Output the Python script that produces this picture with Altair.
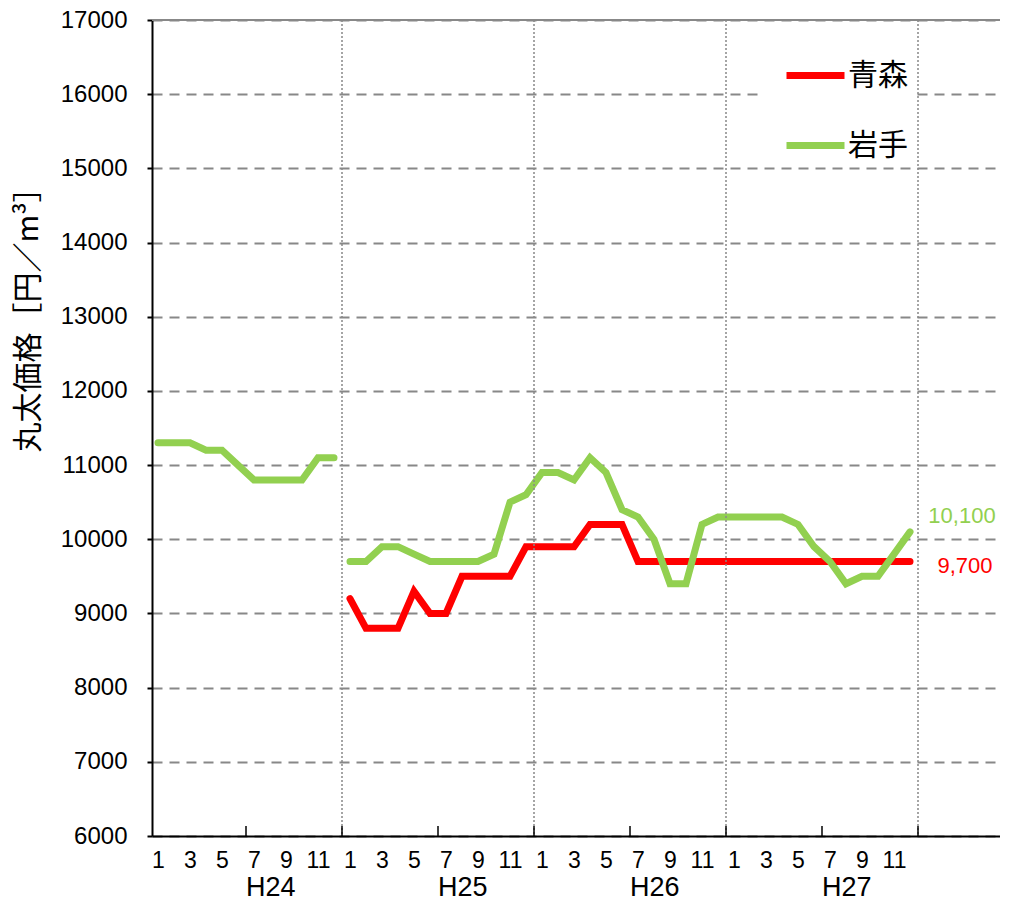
import altair as alt
import pandas as pd

years = ["H24", "H25", "H26", "H27"]
months = list(range(1, 13))
series_names = ["青森", "岩手"]
series_colors = ["#FF0000", "#92D050"]

# 青森 (no data in H24)
aomori = {
    "H25": [9200, 8800, 8800, 8800, 9300, 9000, 9000, 9500, 9500, 9500, 9500, 9900],
    "H26": [9900, 9900, 9900, 10200, 10200, 10200, 9700, 9700, 9700, 9700, 9700, 9700],
    "H27": [9700, 9700, 9700, 9700, 9700, 9700, 9700, 9700, 9700, 9700, 9700, 9700],
}
# 岩手
iwate = {
    "H24": [11300, 11300, 11300, 11200, 11200, 11000, 10800, 10800, 10800, 10800, 11100, 11100],
    "H25": [9700, 9700, 9900, 9900, 9800, 9700, 9700, 9700, 9700, 9800, 10500, 10600],
    "H26": [10900, 10900, 10800, 11100, 10900, 10400, 10300, 10000, 9400, 9400, 10200, 10300],
    "H27": [10300, 10300, 10300, 10300, 10200, 9900, 9700, 9400, 9500, 9500, 9800, 10100],
}

y_ticks = list(range(6000, 17001, 1000))

rows = []
for name, data in [("青森", aomori), ("岩手", iwate)]:
    for yi, yr in enumerate(years):
        if yr not in data:
            continue
        seg = name + ("_a" if yr == "H24" else "_b")
        for m, v in zip(months, data[yr]):
            rows.append({"series": name, "seg": seg, "t": yi * 12 + (m - 1), "value": v})
df = pd.DataFrame(rows)

last = df.sort_values("t").groupby("series").tail(1).copy()

W, H = 848, 816
x_scale = alt.Scale(domain=[-0.375, -0.375 + W / 16], nice=False, zero=False)
y_scale = alt.Scale(domain=[6000, 17000], nice=False, zero=False)

FONT = "Liberation Sans"

x_axis = alt.Axis(
    values=list(range(0, 48, 2)), labelExpr="(datum.value % 12) + 1",
    ticks=False, tickSize=0, grid=False, domainColor="black", domainWidth=2,
    labelFont=FONT, labelFontSize=23, labelColor="black", labelPadding=13,
    labelOverlap=False, labelFlush=False, labelBound=False, labelSeparation=0,
    title=None)
y_axis = alt.Axis(
    values=y_ticks, format="d", grid=True, gridDash=[10, 7], gridColor="#888888",
    gridWidth=2, domainColor="black", domainWidth=2, tickColor="black", tickSize=5,
    tickWidth=2, labelFont=FONT, labelFontSize=24, labelColor="black",
    labelPadding=20, labelOverlap=False,
    title="丸太価格［円／m³］", titleFont="Noto Sans CJK JP",
    titleFontSize=30, titleFontWeight="normal", titleColor="black", titleAngle=270,
    titleX=-109, titleY=292, titleAlign="center", titleBaseline="bottom")


def X():
    return alt.X("t:Q", scale=x_scale, axis=x_axis)


def Y():
    return alt.Y("value:Q", scale=y_scale, axis=y_axis)


line = alt.Chart(df).mark_line(strokeWidth=7, strokeCap="round").encode(
    x=X(), y=Y(),
    color=alt.Color("series:N", scale=alt.Scale(domain=series_names, range=series_colors),
                    legend=alt.Legend(
                        orient="none", legendX=607, legendY=17, title=None,
                        symbolType="stroke", symbolSize=3364, symbolStrokeWidth=7,
                        symbolOffset=18, padding=6, fillColor="white",
                        labelFont="Noto Sans CJK JP", labelFontSize=30, labelColor="black",
                        labelOffset=0, rowPadding=22, labelExpr="datum.label + '\u3000'")),
    detail="seg:N",
    order="t:Q",
)

top_border = alt.Chart(pd.DataFrame({"value": [y_ticks[-1]]})).mark_rule(
    color="#888888", strokeWidth=2).encode(y=Y())

year_bounds = pd.DataFrame({"t": [i * 12 + 11.5 for i in range(len(years))]})
dotted = alt.Chart(year_bounds).mark_rule(
    color="#888888", strokeWidth=1.5, strokeDash=[2, 2]).encode(x=X())

half_ticks = pd.DataFrame({"t": [i * 6 + 5.5 for i in range(len(years) * 2)]})
inner_ticks = alt.Chart(half_ticks).mark_rule(color="black", strokeWidth=1.5).encode(
    x=X(), y=alt.value(H), y2=alt.value(H - 10))

year_df = pd.DataFrame({"year": years, "t": [i * 12 + 5.5 for i in range(len(years))]})
year_text = alt.Chart(year_df).mark_text(
    align="left", baseline="middle", font=FONT, fontSize=27, color="black").encode(
    x=X(), y=alt.value(H + 52), text="year:N")

ann_g = alt.Chart(last[last.series == "岩手"]).mark_text(
    align="center", baseline="middle", dx=52, dy=-16, font=FONT,
    fontSize=22, color=series_colors[1]).encode(
    x=X(), y=Y(), text=alt.Text("value:Q", format=","))
ann_r = alt.Chart(last[last.series == "青森"]).mark_text(
    align="center", baseline="middle", dx=55, dy=4, font=FONT,
    fontSize=22, color=series_colors[0]).encode(
    x=X(), y=Y(), text=alt.Text("value:Q", format=","))

chart = alt.layer(line, top_border, dotted, inner_ticks, year_text, ann_g, ann_r).properties(
    width=W, height=H,
    padding={"left": 144, "top": 12, "right": 0, "bottom": 66},
    autosize=alt.AutoSizeParams(type="none"),
).configure_view(stroke=None).configure(background="white")

chart.save("out.html", embed_options={"renderer": "svg", "actions": False})
